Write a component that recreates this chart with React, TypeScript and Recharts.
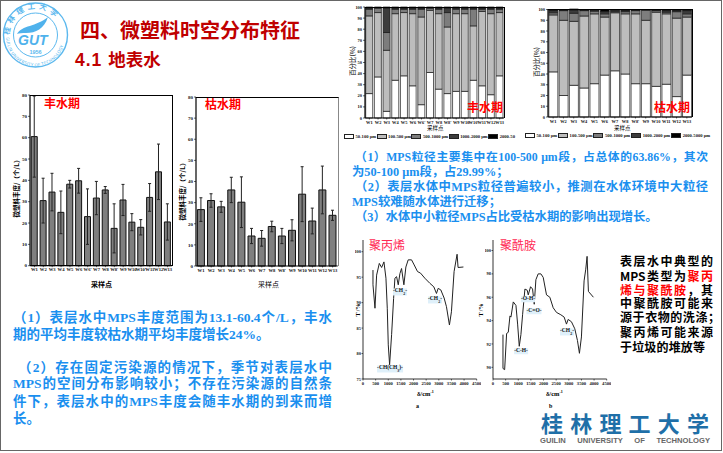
import React from "react";
import {
  Bar,
  BarChart,
  ErrorBar,
  Legend,
  Line,
  LineChart,
  XAxis,
  YAxis,
} from "recharts";

// 丰水期 / 枯水期 丰度
const wetSites = ["W1", "W2", "W3", "W4", "W5", "W6", "W6'", "W7", "W8", "W8'", "W9", "W10", "W10'", "W11", "W12", "W13"];
const wetAbundance = [60.5, 30.5, 34.5, 25, 38.2, 39.8, 23, 31.7, 35.5, 17.5, 30.8, 20.4, 18, 32, 44, 20.5];
const wetError = [19, 10.5, 8.8, 10, 1.8, 5.8, 13, 7.8, 1.6, 11.5, 7.3, 4, 3.6, 6.5, 13, 8.5];

const drySites = ["W1", "W2", "W3", "W4", "W5", "W6", "W7", "W8", "W8'", "W9", "W10", "W11", "W12", "W13"];
const dryAbundance = [26.7, 31, 28, 36, 30.2, 14.2, 13.1, 18.7, 14.2, 16.9, 34, 21.3, 36, 24];
const dryError = [5.6, 3.2, 2.6, 6, 12, 3.6, 3.7, 2.5, 3.6, 5, 13, 6.1, 11.3, 2.4];

// 粒径占比
const wetSizeSites = ["W1", "W2", "W3", "W4", "W5", "W6", "W6'", "W7", "W8", "W8'", "W9", "W10", "W10'", "W11'", "W12", "W13"];
const wet50 = [22, 37, 6, 34, 38, 29, 12, 41, 26, 22, 24, 24, 34, 29, 21, 38];
const wet100 = [70, 58, 55, 60, 57, 65, 79, 56, 68, 60, 70, 70, 49, 67, 73, 57];
const wet500 = [6, 4, 16, 4, 3, 4, 7, 2, 4, 13, 4, 4, 15, 2, 4, 3];
const wet1000 = [1, 0.5, 22, 1, 1, 1, 1, 0.5, 1, 4, 1, 1, 1, 1, 1, 1];
const wet2000 = [1, 0.5, 1, 1, 1, 1, 1, 0.5, 1, 1, 1, 1, 1, 1, 1, 1];

const drySizeSites = ["W1", "W2", "W3", "W4", "W5", "W6", "W7", "W8", "W8'", "W9", "W10", "W11", "W12", "W13"];
const dry50 = [42, 20, 29.5, 27, 31, 39, 43, 40, 31, 31, 28.5, 30.5, 19, 39];
const dry100 = [53, 70, 59.5, 67, 65, 54, 54, 56, 65, 59, 69, 65.5, 73, 54];
const dry500 = [2, 9, 7.5, 5, 2.5, 3, 1, 2, 3, 9.5, 1.5, 1.5, 6, 3];
const dry1000 = [2, 0.5, 3, 0.5, 1, 2, 1.5, 1, 0.5, 0.3, 0.5, 1.5, 1, 3];
const dry2000 = [1, 0.5, 1, 0.5, 0.5, 2, 0.5, 1, 0.5, 0.2, 0.5, 1, 1, 1];

const sizeColors = ["#ffffff", "#bdbdbd", "#7d7d7d", "#3c3c3c", "#000000"];
const wetSizeNames = ["50-100 μm", "100-500 μm", "500-1000 μm", "1000-2000 μm", "2000-50"];
const drySizeNames = ["50-100 μm", "100-500 μm", "500-1000 μm", "1000-2000 μm", "2000-5000 μm"];

// 红外光谱
const ppWave = [395, 395, 474, 539, 645, 737, 829, 908, 961, 1000, 1053, 1132, 1211, 1263, 1329, 1395, 1461, 1526, 1618, 1697, 1789, 1921, 2026, 2158, 2276, 2447, 2645, 2803, 2908, 2974, 3079, 3211, 3303, 3421, 3500, 3605, 3724, 3763, 3974];
const ppTrans = [96.4, 93.5, 88.9, 95.4, 97.7, 96.9, 98, 94.8, 88.9, 81.7, 77.8, 83.7, 90.8, 94.8, 95.1, 93.5, 95.7, 96.7, 93.5, 97, 98.4, 98.4, 97.4, 96.1, 95.8, 94.8, 93.8, 93.1, 91.8, 92.8, 92.5, 90.9, 89.2, 85.6, 88.2, 96.1, 99.5, 96.9, 97];
const paWave = [395, 395, 461, 539, 605, 671, 711, 803, 908, 974, 1039, 1105, 1171, 1263, 1355, 1395, 1487, 1566, 1632, 1697, 1789, 1895, 1987, 2118, 2250, 2382, 2513, 2684, 2816, 2908, 2974, 3105, 3237, 3342, 3421, 3500, 3605, 3671, 3724, 3776, 3974];
const paTrans = [92.8, 89.9, 89.8, 92.9, 93, 94.4, 94.3, 95.6, 95.3, 93.7, 91.8, 92.8, 94.5, 96.7, 96.6, 96.2, 96.9, 96.7, 95.4, 97.5, 98, 98, 97.7, 96.2, 96, 95.1, 94.7, 94.5, 94.3, 93.7, 94.1, 93.9, 93.3, 92.3, 91.2, 92.6, 97.4, 98.4, 99.5, 96.5, 96];

const abundanceTicks = [0, 10, 20, 30, 40, 50, 60, 70, 80];
const percentTicks = [0, 10, 20, 30, 40, 50, 60, 70, 80, 90, 100];
const waveTicks = [0, 500, 1000, 1500, 2000, 2500, 3000, 3500, 4000, 4500];
const ppTicks = [75, 80, 85, 90, 95, 100];
const paTicks = [90, 92, 94, 96, 98, 100];

const SERIF = '"Liberation Serif", "Noto Sans CJK SC", serif';
const SANS = '"Noto Sans CJK SC", "Liberation Sans", sans-serif';
const LATIN = '"Liberation Sans", sans-serif';
const BLUE = "#1a8fef";
const tickStyle = { fontSize: 5, fontWeight: "bold", fill: "#111", fontFamily: SERIF };
const axisLine = { stroke: "#000", strokeWidth: 1.2 };
const tickLine = { stroke: "#000", strokeWidth: 0.6 };

function Txt({ x, y, w, size, color = "#000", bold = true, font = SANS, justify = false, spacing = 0, rotate = false, children }: any) {
  // x/y = 左边和垂直中心；rotate 时 x/y 为中心
  const base: React.CSSProperties = {
    position: "absolute",
    fontFamily: font,
    fontSize: size,
    fontWeight: bold ? "bold" : "normal",
    color,
    lineHeight: 1,
    whiteSpace: "nowrap",
    letterSpacing: spacing,
  };
  if (rotate) {
    return <div style={{ ...base, left: x, top: y, transform: "translate(-50%, -50%) rotate(-90deg)" }}>{children}</div>;
  }
  return (
    <div
      style={{
        ...base,
        left: x,
        top: y,
        width: w,
        transform: "translateY(-50%)",
        textAlign: justify ? "justify" : "left",
        textAlignLast: justify ? "justify" : "left",
        whiteSpace: justify ? "normal" : "nowrap",
      }}
    >
      {children}
    </div>
  );
}

function Frame({ x, y, w, h, right = "#000" }: any) {
  return (
    <div
      style={{
        position: "absolute",
        left: x,
        top: y,
        width: w,
        height: h,
        borderTop: "1.5px solid #000",
        borderRight: `1.5px solid ${right}`,
        boxSizing: "border-box",
      }}
    />
  );
}

function AbundanceChart({ sites, values, errors, left, top, width, height, margin }: any) {
  const rows = sites.map((site: string, i: number) => ({ site, value: values[i], err: errors[i] }));
  return (
    <div style={{ position: "absolute", left, top }}>
      <BarChart width={width} height={height} data={rows} margin={margin} barCategoryGap="14%">
        <XAxis dataKey="site" interval={0} height={14} tick={{ ...tickStyle, fontSize: 4.6 }} tickSize={1.5} tickMargin={1} axisLine={axisLine} tickLine={tickLine} />
        <YAxis domain={[0, 80]} ticks={abundanceTicks} width={18} tick={tickStyle} tickSize={2} tickMargin={1} axisLine={axisLine} tickLine={tickLine} />
        <Bar dataKey="value" fill="#7f7f7f" stroke="#111" strokeWidth={1} isAnimationActive={false}>
          <ErrorBar dataKey="err" width={1.5} stroke="#222" strokeWidth={1} isAnimationActive={false} />
        </Bar>
      </BarChart>
    </div>
  );
}

function SizeLegend({ payload, gap }: any) {
  return (
    <div style={{ display: "flex", columnGap: gap, paddingTop: 4, fontFamily: SERIF, fontSize: 4.6, fontWeight: "bold", color: "#111", whiteSpace: "nowrap" }}>
      {(payload || []).map((item: any) => (
        <div key={item.value} style={{ display: "flex", alignItems: "center", columnGap: 1.5 }}>
          <span style={{ display: "inline-block", width: 10, height: 5, background: item.color, border: "1px solid #222", boxSizing: "border-box" }} />
          <span>{item.value}</span>
        </div>
      ))}
    </div>
  );
}

function SizeChart({ sites, series, names, left, width, margin, legendLeft, gap }: any) {
  const rows = sites.map((site: string, i: number) => {
    const row: any = { site };
    names.forEach((n: string, k: number) => {
      row[n] = series[k][i];
    });
    return row;
  });
  return (
    <div style={{ position: "absolute", left, top: 0 }}>
      <BarChart width={width} height={145} data={rows} margin={margin} barCategoryGap="8%">
        <XAxis dataKey="site" interval={0} height={12} tick={{ ...tickStyle, fontSize: 4.4 }} tickSize={1.5} tickMargin={1} axisLine={axisLine} tickLine={tickLine} />
        <YAxis domain={[0, 100]} ticks={percentTicks} width={margin.yw} tick={{ ...tickStyle, fontSize: 4.4 }} tickSize={2} tickMargin={1} axisLine={axisLine} tickLine={tickLine} />
        <Legend
          verticalAlign="bottom"
          height={margin.legend}
          itemSorter={null}
          wrapperStyle={{ left: legendLeft, width: width - legendLeft, height: margin.legend, overflow: "hidden" }}
          content={(props: any) => <SizeLegend payload={props.payload} gap={gap} />}
        />
        {names.map((n: string, k: number) => (
          <Bar key={n} dataKey={n} stackId="a" fill={sizeColors[k]} stroke="#1a1a1a" strokeWidth={0.7} isAnimationActive={false} />
        ))}
      </BarChart>
    </div>
  );
}

function SpectrumChart({ wave, trans, ticks, domain, left }: any) {
  const rows = wave.map((w: number, i: number) => ({ w, t: trans[i] }));
  return (
    <div style={{ position: "absolute", left, top: 235 }}>
      <LineChart width={126} height={160} data={rows} margin={{ top: 5, right: 4.3, bottom: 5, left: 0 }}>
        <XAxis dataKey="w" type="number" domain={[0, 4500]} ticks={waveTicks} interval={0} height={11} tick={{ ...tickStyle, fontSize: 4.6 }} tickSize={1.5} tickMargin={1} axisLine={{ stroke: "#000", strokeWidth: 0.8 }} tickLine={tickLine} />
        <YAxis type="number" domain={domain} ticks={ticks} interval={0} allowDataOverflow width={8} tick={{ ...tickStyle, fontSize: 4.4 }} tickSize={1.5} tickMargin={0.5} axisLine={{ stroke: "#000", strokeWidth: 0.8 }} tickLine={tickLine} />
        <Line type="linear" dataKey="t" stroke="#222" strokeWidth={1} dot={false} isAnimationActive={false} />
      </LineChart>
    </div>
  );
}

function Badge({ x, y, children }: any) {
  return (
    <div
      style={{
        position: "absolute",
        left: x,
        top: y,
        transform: "translate(-50%, -50%)",
        fontFamily: SERIF,
        fontSize: 5.5,
        fontWeight: "bold",
        lineHeight: 1,
        whiteSpace: "nowrap",
        color: "#111",
        background: "#dff0fa",
      }}
    >
      {children}
    </div>
  );
}

function SchoolBadge() {
  return (
    <svg width={72} height={72} style={{ position: "absolute", left: 0, top: 0 }}>
      <circle cx={35.5} cy={35} r={32} fill="#fff" stroke="#5bb8ee" strokeWidth={1.4} />
      <circle cx={35.5} cy={35} r={22} fill="#fff" stroke="#5bb8ee" strokeWidth={1} />
      <defs>
        <path id="ringTop" d="M 9.5 35 A 26 26 0 0 1 61.5 35" />
        <path id="ringBottom" d="M 6 37 A 29.5 29.5 0 0 0 65 37" />
      </defs>
      <text fontFamily={SANS} fontSize={7.5} fontWeight="bold" fill="#5bb8ee" letterSpacing={3.4}>
        <textPath href="#ringTop">桂林理工大学</textPath>
      </text>
      <text fontFamily={SANS} fontSize={4.4} fill="#5bb8ee" letterSpacing={0.25}>
        <textPath href="#ringBottom">GUILIN UNIVERSITY OF TECHNOLOGY</textPath>
      </text>
      <path d="M 17 34 C 22 25 36 27 48 17 C 44 29 36 33 26 33 C 22 33 19 33 17 34 Z" fill="#4fb2ec" />
      <text x={18} y={45} fontFamily={LATIN} fontSize={14} fontWeight="bold" fontStyle="italic" fill="#4fb2ec">GUT</text>
      <text x={35.5} y={53.5} textAnchor="middle" fontFamily={LATIN} fontSize={5.5} fontWeight="bold" fill="#5bb8ee">1956</text>
    </svg>
  );
}

export default function App() {
  return (
    <div style={{ position: "fixed", left: 0, top: 0, width: 723, height: 453, background: "#fff", overflow: "hidden" }}>
      <div style={{ position: "absolute", left: 0, top: 0, width: 722, height: 451, border: "1px solid #666", boxSizing: "border-box" }} />
      <SchoolBadge />

      <Txt x={80} y={30} size={20} color="#c00000">四、微塑料时空分布特征</Txt>
      <Txt x={75} y={60} size={17.5} color="#c00000"><span style={{ fontFamily: LATIN, letterSpacing: 1 }}>4.1&nbsp;</span>地表水</Txt>

      {/* 丰度柱状图 */}
      <AbundanceChart sites={wetSites} values={wetAbundance} errors={wetError} left={12} top={90} width={162} height={190} margin={{ top: 5, right: 2, bottom: 0.3, left: 0 }} />
      <Frame x={30} y={95} w={143} h={171} />
      <AbundanceChart sites={drySites} values={dryAbundance} errors={dryError} left={178} top={90} width={162} height={190} margin={{ top: 7, right: 2.3, bottom: 0, left: 0 }} />
      <Frame x={196} y={97} w={143} h={169} right="#888" />
      <Txt x={44} y={103} size={12} color="#ff0000">丰水期</Txt>
      <Txt x={205} y={104} size={12} color="#ff0000">枯水期</Txt>
      <Txt x={16} y={187} size={6.5} rotate>微塑料丰度/（个/L）</Txt>
      <Txt x={182} y={190} size={6.5} rotate>微塑料丰度/（个/L）</Txt>
      <Txt x={91} y={284} size={7}>采样点</Txt>
      <Txt x={258} y={284} size={7} bold={false}>采样点</Txt>

      {/* 粒径堆积图 */}
      <SizeChart
        sites={wetSizeSites}
        series={[wet50, wet100, wet500, wet1000, wet2000]}
        names={wetSizeNames}
        left={340}
        width={184}
        margin={{ top: 7, right: 20, bottom: 0, left: 0, yw: 25, legend: 15 }}
        legendLeft={4}
        gap={0.5}
      />
      <Frame x={365} y={7} w={140} h={111} />
      <SizeChart
        sites={drySizeSites}
        series={[dry50, dry100, dry500, dry1000, dry2000]}
        names={drySizeNames}
        left={524}
        width={199}
        margin={{ top: 9, right: 31, bottom: 0, left: 0, yw: 24, legend: 16 }}
        legendLeft={1}
        gap={1}
      />
      <Frame x={548} y={9} w={145} h={108} />
      <Txt x={467} y={107} size={12} color="#ff0000">丰水期</Txt>
      <Txt x={654} y={107} size={12} color="#ff0000">枯水期</Txt>
      <Txt x={352} y={61} size={6.5} bold={false} rotate>百分比(%)</Txt>
      <Txt x={536} y={62} size={6.5} bold={false} rotate>百分比(%)</Txt>
      <Txt x={427} y={129} size={5.5} bold={false}>采样点</Txt>
      <Txt x={614} y={129} size={5.5} bold={false}>采样点</Txt>

      {/* 红外光谱 */}
      <SpectrumChart wave={ppWave} trans={ppTrans} ticks={ppTicks} domain={[75, 102.3]} left={355} />
      <SpectrumChart wave={paWave} trans={paTrans} ticks={paTicks} domain={[89, 100.9]} left={485} />
      <Txt x={369} y={245} size={12} color="#ff2a55" bold={false}>聚丙烯</Txt>
      <Txt x={500} y={245} size={12} color="#ff2a55" bold={false}>聚酰胺</Txt>
      <Badge x={390} y={369}>-CH(CH<sub style={{ fontSize: 4 }}>3</sub>)-</Badge>
      <Badge x={400} y={292}>-CH<sub style={{ fontSize: 4 }}>2</sub>-</Badge>
      <Badge x={435} y={300}>-CH<sub style={{ fontSize: 4 }}>2</sub>-</Badge>
      <Badge x={521} y={351}>-C-H-</Badge>
      <Badge x={528} y={299}>-O-H-</Badge>
      <Badge x={534} y={311}>-C=O-</Badge>
      <Badge x={567} y={332}>-CH<sub style={{ fontSize: 4 }}>2</sub>-</Badge>
      <Txt x={417} y={394} size={6.5} font={SERIF}>δ/cm<sup style={{ fontSize: 4 }}>-1</sup></Txt>
      <Txt x={546} y={394} size={6.5} font={SERIF}>δ/cm<sup style={{ fontSize: 4 }}>-1</sup></Txt>
      <Txt x={416} y={406} size={6} font={SERIF}>a</Txt>
      <Txt x={549} y={406} size={6} font={SERIF}>b</Txt>
      <Txt x={358} y={310} size={6} font={SERIF} rotate>T /%</Txt>
      <Txt x={481} y={310} size={6} font={SERIF} rotate>T /%</Txt>

      {/* 文字说明 */}
      <Txt x={13} y={318} w={319} size={13.5} color={BLUE} font={SERIF} justify>（1）表层水中MPS丰度范围为13.1-60.4个/L，丰水</Txt>
      <Txt x={13} y={335} size={13.5} color={BLUE} font={SERIF}>期的平均丰度较枯水期平均丰度增长24%。</Txt>
      <Txt x={18} y={368} w={314} size={13.5} color={BLUE} font={SERIF} justify>（2）存在固定污染源的情况下，季节对表层水中</Txt>
      <Txt x={13} y={384} w={319} size={13.5} color={BLUE} font={SERIF} justify>MPS的空间分布影响较小；不存在污染源的自然条</Txt>
      <Txt x={13} y={402} w={319} size={13.5} color={BLUE} font={SERIF} justify>件下，表层水中的MPS丰度会随丰水期的到来而增</Txt>
      <Txt x={13} y={419} size={13.5} color={BLUE} font={SERIF}>长。</Txt>

      <Txt x={355} y={158} w={353} size={11.8} color={BLUE} font={SERIF} justify>（1）MPS粒径主要集中在100-500 μm段，占总体的63.86%，其次</Txt>
      <Txt x={352} y={172} size={12.3} color={BLUE} font={SERIF}>为50-100 μm段，占29.99%；</Txt>
      <Txt x={355} y={187} w={353} size={12.3} color={BLUE} font={SERIF} justify>（2）表层水体中MPS粒径普遍较小，推测在水体环境中大粒径</Txt>
      <Txt x={352} y={202} size={12.3} color={BLUE} font={SERIF}>MPS较难随水体进行迁移；</Txt>
      <Txt x={355} y={217} size={12.3} color={BLUE} font={SERIF}>（3）水体中小粒径MPS占比受枯水期的影响出现增长。</Txt>

      <Txt x={620} y={261} w={93} size={12} justify>表层水中典型的</Txt>
      <Txt x={620} y={276} w={93} size={12} justify>MPS类型为<span style={{ color: "#ff0000" }}>聚丙</span></Txt>
      <Txt x={620} y={290} w={93} size={12} justify><span style={{ color: "#ff0000" }}>烯与聚酰胺</span>，其</Txt>
      <Txt x={620} y={303} w={93} size={12} justify>中聚酰胺可能来</Txt>
      <Txt x={620} y={317} w={100} size={12} justify>源于衣物的洗涤；</Txt>
      <Txt x={620} y={332} w={93} size={12} justify>聚丙烯可能来源</Txt>
      <Txt x={620} y={347} w={85} size={12} justify>于垃圾的堆放等</Txt>

      {/* 校名 */}
      <Txt x={541} y={421.5} w={168} size={22} color="#1f6fa8" font={SANS} justify>桂林理工大学</Txt>
      <Txt x={540} y={441} w={170} size={7.6} color="#666" font={LATIN} justify>GUILIN UNIVERSITY OF TECHNOLOGY</Txt>
    </div>
  );
}
